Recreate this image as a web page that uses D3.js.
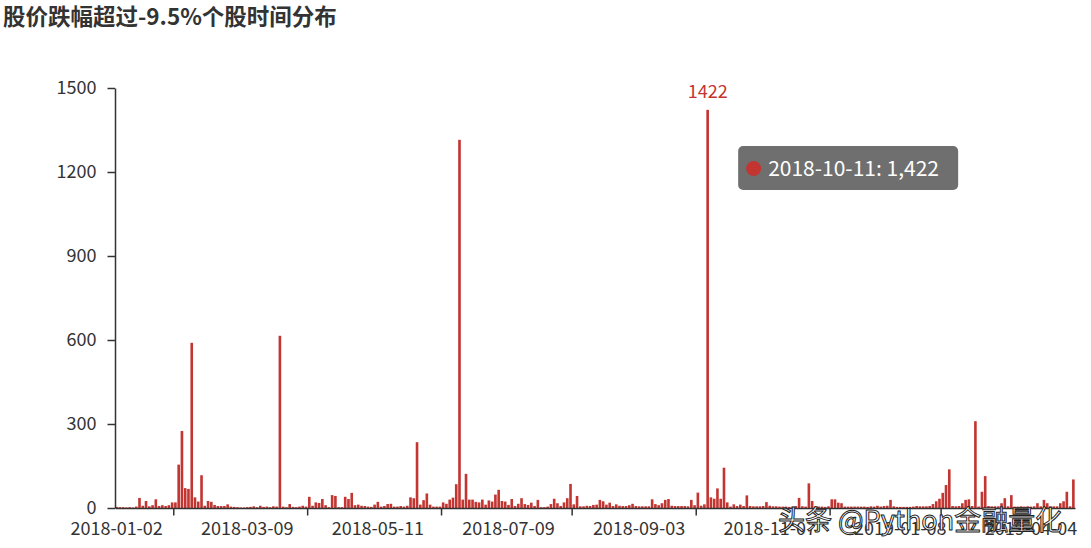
<!DOCTYPE html>
<html><head><meta charset="utf-8">
<script src="https://cdn.jsdelivr.net/npm/d3@7/dist/d3.min.js"></script>
<style>
body{margin:0;background:#fff}
svg{display:block}
text{font-family:"Noto Sans CJK SC","Microsoft YaHei",sans-serif}
</style>
</head><body>
<svg id="chart" width="1091" height="548"></svg>
<script>
const chartTitle = "股价跌幅超过-9.5%个股时间分布";
const watermark = "头条 @Python金融量化";
const dates = [
"2018-01-02","2018-01-03","2018-01-04","2018-01-05","2018-01-08","2018-01-10","2018-01-11","2018-01-15","2018-01-16","2018-01-17","2018-01-18","2018-01-19","2018-01-22","2018-01-23","2018-01-24","2018-01-26","2018-01-29","2018-01-30","2018-01-31",
"2018-02-01","2018-02-02","2018-02-05","2018-02-06","2018-02-07","2018-02-08","2018-02-09","2018-02-12","2018-02-13","2018-02-14","2018-02-22","2018-02-23","2018-02-26","2018-02-27","2018-02-28",
"2018-03-01","2018-03-02","2018-03-05","2018-03-06","2018-03-07","2018-03-08","2018-03-09","2018-03-12","2018-03-13","2018-03-14","2018-03-15","2018-03-16","2018-03-19","2018-03-20","2018-03-21","2018-03-22","2018-03-23","2018-03-26","2018-03-27","2018-03-28","2018-03-29","2018-03-30",
"2018-04-02","2018-04-03","2018-04-04","2018-04-09","2018-04-10","2018-04-11","2018-04-13","2018-04-16","2018-04-17","2018-04-18","2018-04-19","2018-04-20","2018-04-23","2018-04-24","2018-04-25","2018-04-26","2018-04-27",
"2018-05-02","2018-05-03","2018-05-04","2018-05-07","2018-05-08","2018-05-09","2018-05-10","2018-05-11","2018-05-14","2018-05-15","2018-05-16","2018-05-17","2018-05-18","2018-05-21","2018-05-22","2018-05-23","2018-05-24","2018-05-25","2018-05-28","2018-05-29","2018-05-30","2018-05-31",
"2018-06-01","2018-06-04","2018-06-05","2018-06-06","2018-06-07","2018-06-08","2018-06-11","2018-06-12","2018-06-13","2018-06-14","2018-06-15","2018-06-19","2018-06-20","2018-06-21","2018-06-22","2018-06-25","2018-06-26","2018-06-27","2018-06-28","2018-06-29",
"2018-07-02","2018-07-03","2018-07-04","2018-07-05","2018-07-06","2018-07-09","2018-07-10","2018-07-11","2018-07-12","2018-07-13","2018-07-16","2018-07-17","2018-07-18","2018-07-19","2018-07-20","2018-07-23","2018-07-24","2018-07-25","2018-07-26","2018-07-27","2018-07-30","2018-07-31",
"2018-08-01","2018-08-02","2018-08-03","2018-08-06","2018-08-07","2018-08-08","2018-08-09","2018-08-10","2018-08-13","2018-08-14","2018-08-15","2018-08-16","2018-08-17","2018-08-20","2018-08-21","2018-08-22","2018-08-23","2018-08-24","2018-08-27","2018-08-28","2018-08-29","2018-08-30","2018-08-31",
"2018-09-03","2018-09-04","2018-09-05","2018-09-06","2018-09-07","2018-09-10","2018-09-11","2018-09-12","2018-09-14","2018-09-17","2018-09-18","2018-09-19","2018-09-20","2018-09-21","2018-09-25","2018-09-26","2018-09-27","2018-09-28",
"2018-10-08","2018-10-09","2018-10-10","2018-10-11","2018-10-12","2018-10-15","2018-10-16","2018-10-17","2018-10-18","2018-10-19","2018-10-22","2018-10-23","2018-10-24","2018-10-25","2018-10-26","2018-10-29","2018-10-30","2018-10-31",
"2018-11-01","2018-11-02","2018-11-05","2018-11-06","2018-11-07","2018-11-08","2018-11-09","2018-11-12","2018-11-13","2018-11-14","2018-11-15","2018-11-16","2018-11-19","2018-11-20","2018-11-22","2018-11-23","2018-11-26","2018-11-27","2018-11-28","2018-11-29","2018-11-30",
"2018-12-03","2018-12-04","2018-12-05","2018-12-06","2018-12-07","2018-12-10","2018-12-11","2018-12-12","2018-12-14","2018-12-17","2018-12-18","2018-12-19","2018-12-20","2018-12-21","2018-12-24","2018-12-25","2018-12-26","2018-12-27","2018-12-28",
"2019-01-02","2019-01-03","2019-01-04","2019-01-07","2019-01-08","2019-01-09","2019-01-11","2019-01-14","2019-01-15","2019-01-16","2019-01-18","2019-01-21","2019-01-22","2019-01-23","2019-01-24","2019-01-25","2019-01-28","2019-01-29","2019-01-30","2019-01-31",
"2019-02-01","2019-02-12","2019-02-21","2019-02-25","2019-02-27",
"2019-03-04","2019-03-07","2019-03-08","2019-03-11","2019-03-12","2019-03-14","2019-03-15","2019-03-18","2019-03-19","2019-03-21","2019-03-22","2019-03-25","2019-03-26","2019-03-27","2019-03-28","2019-03-29",
"2019-04-01","2019-04-02","2019-04-03","2019-04-04","2019-04-08","2019-04-09","2019-04-11","2019-04-12","2019-04-15","2019-04-16","2019-04-17","2019-04-18","2019-04-19","2019-04-22","2019-04-23","2019-04-24","2019-04-25"
];
const counts = [
4,3,3,2,3,2,5,36,8,25, 6,10,31,7,10,7,10,20,20,155, 275,71,68,590,38,23,117,8,25,22, 11,7,7,7,13,5,4,3,2,2, 3,4,6,3,8,4,5,3,6,5, 615,5,3,14,4,3,5,8,5,
40,8,20,18,32,10,3,46,43,3, 3,40,32,54,10,12,8,7,5,4, 12,22,5,7,14,15,5,5,7,5, 8,38,35,235,12,28,52,12,5,5, 5,20,15,30,37,85,1315,30,122,30, 30,22,20,30,12,27,23,48,65,
25,23,11,32,7,15,35,14,11,19, 7,29,3,3,5,14,33,17,7,20, 35,86,13,43,6,6,8,7,11,12, 29,24,12,19,7,13,8,7,7,10, 15,7,6,6,6,6,31,14,10,17, 29,32,8,7,7,7,7,6,29,
10,55,8,13,1422,38,33,70,33,144, 20,5,13,7,12,7,45,7,6,6, 6,7,21,8,6,6,5,5,5,4, 5,7,36,6,5,88,25,6,5,5, 4,6,31,31,19,17,5,5,5,5, 5,5,5,4,6,5,8,5,
7,8,29,6,4,4,4,4,4,5, 7,6,6,6,7,14,24,33,54,82, 138,7,6,7,17,29,31,7,310,5, 58,114,7,6,6,6,17,35,6,46, 5,5,6,5,6,5,6,17,6,29, 17,6,6,6,17,24,58,6,102
];
const yTickValues = [0, 300, 600, 900, 1200, 1500];
const xLabelDates = ["2018-01-02","2018-03-09","2018-05-11","2018-07-09","2018-09-03","2018-11-07","2019-01-08","2019-04-04"];
const xTickDates = ["2018-01-31","2018-04-09","2018-06-08","2018-08-06","2018-10-08","2018-12-05","2019-01-29"];
const highlightDate = "2018-10-11";

const data = dates.map((d, i) => ({date: d, value: counts[i]}));
const svg = d3.select("#chart");
const gLeft = 115, gRight = 1075, gTop = 88, gBottom = 508;
const barColor = "#c23531", axisColor = "#333";
const fontFam = '"Noto Sans CJK SC","Microsoft YaHei",sans-serif';

const xb = d3.scaleBand().domain(dates).range([gLeft, gRight]);
const x = d3.scaleBand().domain(dates).range([gLeft, gRight]).paddingInner(0.2).paddingOuter(0.1);
const y = d3.scaleLinear().domain([0, 1500]).range([gBottom, gTop]);

// title
svg.append("text").attr("x", 3).attr("y", 25)
  .attr("font-size", 22.5).attr("font-weight", "bold").attr("fill", "#333")
  .text(chartTitle);

// bars
svg.append("g").selectAll("rect").data(data).join("rect")
  .attr("x", d => x(d.date)).attr("width", x.bandwidth())
  .attr("y", d => y(d.value)).attr("height", d => y(0) - y(d.value))
  .attr("fill", barColor);

// y axis
const yAxis = svg.append("g").attr("transform", `translate(${gLeft},0)`)
  .call(d3.axisLeft(y).tickValues(yTickValues).tickFormat(d3.format("d"))
    .tickSize(7.5).tickSizeOuter(0).tickPadding(11));
yAxis.selectAll("path,line").attr("stroke", axisColor).attr("stroke-width", 1.5);
yAxis.selectAll("text").attr("font-size", 18).attr("fill", "#333").attr("font-family", fontFam);

// x axis labels (centered in their category band)
const xAxis = svg.append("g").attr("transform", `translate(0,${gBottom})`)
  .call(d3.axisBottom(xb).tickValues(xLabelDates).tickSize(0).tickSizeOuter(0).tickPadding(14));
xAxis.select("path").attr("stroke", axisColor).attr("stroke-width", 1.5);
xAxis.selectAll("text").attr("font-size", 18).attr("fill", "#333").attr("font-family", fontFam);

// x axis ticks at category boundaries
svg.append("g").selectAll("line").data(xTickDates).join("line")
  .attr("x1", d => xb(d)).attr("x2", d => xb(d))
  .attr("y1", gBottom).attr("y2", gBottom + 7.5)
  .attr("stroke", axisColor).attr("stroke-width", 1.5);

// max label
const maxD = data.reduce((a, b) => b.value > a.value ? b : a);
svg.append("text").attr("x", x(maxD.date) + x.bandwidth() / 2).attr("y", y(maxD.value) - 12)
  .attr("text-anchor", "middle").attr("font-size", 18).attr("fill", barColor)
  .text(maxD.value);

// tooltip
const hd = data.find(d => d.date === highlightDate);
const tx = xb(hd.date) + xb.bandwidth() / 2 + 30.5, ty = 146;
const tip = svg.append("g").attr("transform", `translate(${tx},${ty})`);
tip.append("rect").attr("width", 220).attr("height", 44).attr("rx", 5)
  .attr("fill", "rgba(50,50,50,0.7)");
tip.append("circle").attr("cx", 15.5).attr("cy", 22.5).attr("r", 7.5).attr("fill", barColor);
tip.append("text").attr("x", 30).attr("y", 30).attr("font-size", 21).attr("fill", "#fff")
  .text(`${hd.date}: ${d3.format(",")(hd.value)}`);

// watermark (present in the reference picture)
svg.append("text").attr("x", 778).attr("y", 530).attr("font-size", 27)
  .attr("fill", "#fff").attr("stroke", "#222").attr("stroke-width", 1)
  .text(watermark);
</script>
</body></html>
